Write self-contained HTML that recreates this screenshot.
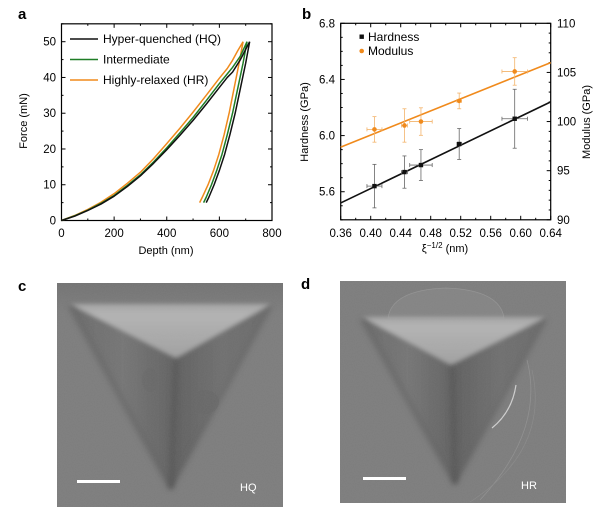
<!DOCTYPE html>
<html><head><meta charset="utf-8"><style>
body{margin:0;background:#fff;width:600px;height:513px;overflow:hidden;font-family:"Liberation Sans",Arial,sans-serif}
svg text{font-family:"Liberation Sans",Arial,sans-serif}
</style></head><body>
<svg id="fig" width="600" height="513" viewBox="0 0 600 513" xmlns="http://www.w3.org/2000/svg">
<defs>
<filter id="noise" x="0" y="0" width="100%" height="100%">
<feTurbulence type="fractalNoise" baseFrequency="0.9" numOctaves="2" seed="3" result="t"/>
<feColorMatrix in="t" type="matrix" values="0 0 0 0 0.45  0 0 0 0 0.45  0 0 0 0 0.45  0 0 0 0.12 0"/>
</filter>
<linearGradient id="bright" x1="0" y1="0" x2="0" y2="1">
<stop offset="0" stop-color="#a4a4a4"/><stop offset="0.2" stop-color="#b4b4b4"/><stop offset="1" stop-color="#a0a0a0"/>
</linearGradient>
<linearGradient id="leftFace" x1="0" y1="0" x2="1" y2="0">
<stop offset="0" stop-color="#6a6a6a"/><stop offset="0.5" stop-color="#747474"/><stop offset="1" stop-color="#606060"/>
</linearGradient>
<linearGradient id="rightFace" x1="0" y1="0" x2="1" y2="0">
<stop offset="0" stop-color="#5e5e5e"/><stop offset="0.5" stop-color="#6e6e6e"/><stop offset="1" stop-color="#6a6a6a"/>
</linearGradient>
<linearGradient id="topShade" x1="0" y1="0" x2="0" y2="1">
<stop offset="0" stop-color="#727272"/><stop offset="1" stop-color="#7c7c7c"/>
</linearGradient>
<filter id="blur"><feGaussianBlur stdDeviation="2"/></filter>
<filter id="blur2"><feGaussianBlur stdDeviation="3"/></filter>
</defs>
<g id="panelA"></g>
<g id="panelB"></g>

<text x="18" y="291" font-size="15" font-weight="bold">c</text>
<g>
<rect x="57" y="283" width="226" height="224" fill="#7c7c7c"/>
<rect x="57" y="283" width="226" height="30" fill="url(#topShade)"/>
<g filter="url(#blur)">
<polygon points="70,305 171,489 177,357" fill="url(#leftFace)"/>
<polygon points="271,305 171,489 177,357" fill="url(#rightFace)"/>
<polygon points="70,304 271,304 176,358" fill="url(#bright)"/>
</g>
<g filter="url(#blur2)">
<line x1="70" y1="306" x2="171" y2="489" stroke="#5a5a5a" stroke-width="5" opacity="0.6"/>
<line x1="271" y1="306" x2="171" y2="489" stroke="#5a5a5a" stroke-width="4" opacity="0.5"/>
<line x1="176" y1="360" x2="171" y2="489" stroke="#525252" stroke-width="5" opacity="0.8"/>
</g>
<ellipse cx="205" cy="402" rx="14" ry="12" fill="#656565" opacity="0.6"/>
<ellipse cx="150" cy="380" rx="8" ry="12" fill="#656565" opacity="0.5"/>
<rect x="57" y="283" width="226" height="224" filter="url(#noise)"/>
<rect x="77" y="480" width="43" height="3" fill="#fff"/>
<text x="240" y="491" font-size="11" fill="#fff">HQ</text>
</g>

<text x="301" y="289" font-size="15" font-weight="bold">d</text>
<g>
<rect x="340" y="281" width="226" height="222" fill="#7c7c7c"/>
<path d="M388,318 Q392,290 446,288 Q500,290 504,318 Z" fill="#838383" stroke="#929292" stroke-width="0.8"/>
<g filter="url(#blur)">
<polygon points="362,318 455,484 452,364" fill="url(#leftFace)"/>
<polygon points="546,318 455,484 452,364" fill="url(#rightFace)"/>
<polygon points="362,317 546,317 451,365" fill="url(#bright)"/>
</g>
<g filter="url(#blur2)">
<line x1="362" y1="319" x2="455" y2="484" stroke="#5a5a5a" stroke-width="5" opacity="0.6"/>
<line x1="546" y1="319" x2="455" y2="484" stroke="#5a5a5a" stroke-width="4" opacity="0.5"/>
<line x1="452" y1="366" x2="455" y2="484" stroke="#525252" stroke-width="5" opacity="0.8"/>
</g>
<path d="M516,385 Q512,412 492,428" fill="none" stroke="#d0d0d0" stroke-width="1.2"/>
<path d="M527,360 Q545,430 480,500" fill="none" stroke="#8f8f8f" stroke-width="0.8"/>
<path d="M532,370 Q550,450 470,502" fill="none" stroke="#898989" stroke-width="0.7"/>
<rect x="340" y="281" width="226" height="222" filter="url(#noise)"/>
<rect x="363" y="477" width="43" height="3" fill="#fff"/>
<text x="521" y="489" font-size="11" fill="#fff">HR</text>
</g>
</svg>
<script>
// ---- Panel A data ----
const hqLoadX=[0,50,100,150,200,250,300,350,400,450,500,550,600,630,650,680,715];
const hqLoadY=[0,1.2,2.8,4.6,6.8,9.5,12.5,16,19.8,23.8,28,32.5,37.2,40,41.5,45,50];
const imLoadX=[0,50,100,150,200,250,300,350,400,450,500,550,600,630,650,680,705];
const imLoadY=[0,1.3,2.9,4.8,7.0,9.8,12.8,16.4,20.3,24.5,28.8,33.5,38.3,41,42.8,46,50];
const hrLoadX=[0,50,100,150,200,250,300,350,400,450,500,550,600,630,650,670,690];
const hrLoadY=[0,1.4,3.1,5.1,7.5,10.4,13.5,17.3,21.5,25.8,30.3,35,39.8,42.5,44.8,47.5,50];
const hqUnX=[715,700,680,660,640,620,600,580,560,550];
const imUnX=[705,690,670,650,630,610,590,570,550,540];
const hrUnX=[690,675,656,637,618,598,578,557,535,525];
const unY=[50,44,37,30,24,18.5,14,10,6.5,5];
const aXTicks=[0,200,400,600,800];
const aYTicks=[0,10,20,30,40,50];
// ---- Panel B data ----
const xi=[0.405,0.445,0.467,0.518,0.592];
const xiErr=[0.010,0.004,0.015,0.003,0.017];
const hardness=[5.64,5.74,5.79,5.94,6.12];
const hardErr=[0.155,0.115,0.11,0.11,0.21];
const modulus=[99.2,99.6,100.0,102.1,105.1];
const modErr=[1.3,1.7,1.4,0.8,1.4];
const hardFitX=[0.36,0.64]; const hardFitY=[5.52,6.24];
const modFitX=[0.36,0.64]; const modFitY=[97.4,106.0];
const bXTicks=[0.36,0.40,0.44,0.48,0.52,0.56,0.60,0.64];
const bYTicks=[5.6,6.0,6.4,6.8];
const bY2Ticks=[90,95,100,105,110];

const NS="http://www.w3.org/2000/svg";
function mk(parent,tag,attrs){const e=document.createElementNS(NS,tag);for(const k in attrs)e.setAttribute(k,attrs[k]);parent.appendChild(e);return e;}
function txt(parent,x,y,s,size,anchor,extra){const t=mk(parent,'text',Object.assign({x:x,y:y,'font-size':size,'text-anchor':anchor||'start'},extra||{}));t.textContent=s;return t;}

// Panel A
const A=document.getElementById('panelA');
const ax=v=>61.5+(v-0)*(272-61.5)/800;
const ay=v=>220.5-v*(220.5-41.7)/50;
let lbl=txt(A,18,19,'a',15,'start',{'font-weight':'bold'});


let fr=mk(A,'rect',{x:61.5,y:ay(55),width:ax(800)-61.5,height:220.5-ay(55),fill:'none',stroke:'#000','stroke-width':1.2});


for(let v=0;v<=800;v+=100){const maj=v%200===0;const x=ax(v);mk(A,'line',{x1:x,x2:x,y1:220.5,y2:220.5-(maj?4:2),stroke:'#000'});mk(A,'line',{x1:x,x2:x,y1:ay(55),y2:ay(55)+(maj?4:2),stroke:'#000'});}
for(let v=0;v<=55;v+=5){const maj=v%10===0;const y=ay(v);mk(A,'line',{x1:61.5,x2:61.5+(maj?4:2),y1:y,y2:y,stroke:'#000'});mk(A,'line',{x1:272,x2:272-(maj?4:2),y1:y,y2:y,stroke:'#000'});}
aXTicks.forEach(v=>{const t=txt(A,ax(v),237,String(v),11.5,'middle');});
aYTicks.forEach(v=>{const t=txt(A,56,ay(v)+4,String(v),11.5,'end');});
let xt=txt(A,166,254,'Depth (nm)',11,'middle');


let yt=txt(A,0,0,'Force (mN)',11,'middle',{transform:'translate(27,121) rotate(-90)'});


function poly(g,xs,ys,color,fx,fy,name){const p=mk(g,'polyline',{points:xs.map((x,i)=>fx(x)+','+fy(ys[i])).join(' '),fill:'none',stroke:color,'stroke-width':1.5,'stroke-linejoin':'round'});return p;}
const series=[['#f08a1c',hrLoadX,hrLoadY,hrUnX,'hr'],['#1f7d26',imLoadX,imLoadY,imUnX,'intermediate'],['#111',hqLoadX,hqLoadY,hqUnX,'hq']];
series.forEach(s=>{poly(A,s[1],s[2],s[0],ax,ay,'loading-curve-'+s[4]);poly(A,s[3],unY,s[0],ax,ay,'unloading-curve-'+s[4]);});
const legA=[['Hyper-quenched (HQ)','#111'],['Intermediate','#1f7d26'],['Highly-relaxed (HR)','#f08a1c']];
legA.forEach((l,i)=>{const y=39+i*20.5;const g=mk(A,'g',{});mk(g,'line',{x1:70,x2:98,y1:y,y2:y,stroke:l[1],'stroke-width':1.6});txt(g,103,y+4,l[0],12,'start');});

// Panel B
const B=document.getElementById('panelB');
const bx=v=>340.7+(v-0.36)*(550.7-340.7)/0.28;
const by=v=>23.3+(6.8-v)*(219.8-23.3)/1.4;
const by2=v=>23.3+(110-v)*(219.8-23.3)/20;
lbl=txt(B,302,19,'b',15,'start',{'font-weight':'bold'});


fr=mk(B,'rect',{x:340.7,y:23.3,width:210,height:196.5,fill:'none',stroke:'#000','stroke-width':1.2});


for(let i=0;i<=14;i++){const v=0.36+i*0.02;const maj=i%2===0;const x=bx(v);mk(B,'line',{x1:x,x2:x,y1:219.8,y2:219.8-(maj?4:2),stroke:'#000'});mk(B,'line',{x1:x,x2:x,y1:23.3,y2:23.3+(maj?4:2),stroke:'#000'});}
for(let i=0;i<=14;i++){const v=5.4+i*0.1;const maj=i%4===2;const y=by(v);mk(B,'line',{x1:340.7,x2:340.7+(maj?4:2),y1:y,y2:y,stroke:'#000'});}
for(let v=90;v<=110;v+=1){const maj=v%5===0;const y=by2(v);mk(B,'line',{x1:550.7,x2:550.7-(maj?4:2),y1:y,y2:y,stroke:'#000'});}
bXTicks.forEach(v=>{const t=txt(B,bx(v),237,v.toFixed(2),11.5,'middle');});
bYTicks.forEach(v=>{const t=txt(B,335,by(v)+4,v.toFixed(1),11.5,'end');});
bY2Ticks.forEach(v=>{const t=txt(B,557,by2(v)+4,String(v),11.5,'start');});
xt=txt(B,445,252,'ξ',11,'middle');
xt.innerHTML='ξ<tspan font-size="8" dy="-4">−1/2</tspan><tspan dy="4"> (nm)</tspan>';


yt=txt(B,0,0,'Hardness (GPa)',11,'middle',{transform:'translate(308,122) rotate(-90)'});


yt=txt(B,0,0,'Modulus (GPa)',11,'middle',{transform:'translate(590,122) rotate(-90)'});


let fl=mk(B,'line',{x1:bx(modFitX[0]),y1:by2(modFitY[0]),x2:bx(modFitX[1]),y2:by2(modFitY[1]),stroke:'#f08a1c','stroke-width':1.6});


fl=mk(B,'line',{x1:bx(hardFitX[0]),y1:by(hardFitY[0]),x2:bx(hardFitX[1]),y2:by(hardFitY[1]),stroke:'#111','stroke-width':1.6});


function errbar(g,x,y,xl,xr,yt_,yb,col){mk(g,'line',{x1:x,x2:x,y1:yt_,y2:yb,stroke:col,'stroke-width':0.8});mk(g,'line',{x1:x-2,x2:x+2,y1:yt_,y2:yt_,stroke:col,'stroke-width':0.8});mk(g,'line',{x1:x-2,x2:x+2,y1:yb,y2:yb,stroke:col,'stroke-width':0.8});mk(g,'line',{x1:xl,x2:xr,y1:y,y2:y,stroke:col,'stroke-width':0.8});mk(g,'line',{x1:xl,x2:xl,y1:y-2,y2:y+2,stroke:col,'stroke-width':0.8});mk(g,'line',{x1:xr,x2:xr,y1:y-2,y2:y+2,stroke:col,'stroke-width':0.8});}
xi.forEach((v,i)=>{
 const g=mk(B,'g',{});
 
 
 errbar(g,bx(v),by2(modulus[i]),bx(v-xiErr[i]),bx(v+xiErr[i]),by2(modulus[i]+modErr[i]),by2(modulus[i]-modErr[i]),'#f3b36a');
 mk(g,'circle',{cx:bx(v),cy:by2(modulus[i]),r:2.3,fill:'#f08a1c'});
 const h=mk(B,'g',{});
 
 
 errbar(h,bx(v),by(hardness[i]),bx(v-xiErr[i]),bx(v+xiErr[i]),by(hardness[i]+hardErr[i]),by(hardness[i]-hardErr[i]),'#666');
 mk(h,'rect',{x:bx(v)-2.2,y:by(hardness[i])-2.2,width:4.4,height:4.4,fill:'#111'});
});
let lg=mk(B,'g',{});


mk(lg,'rect',{x:359.5,y:34.5,width:4.4,height:4.4,fill:'#111'});txt(lg,368,41,'Hardness',12,'start');
lg=mk(B,'g',{});


mk(lg,'circle',{cx:361.7,cy:51,r:2.3,fill:'#f08a1c'});txt(lg,368,55,'Modulus',12,'start');
</script>
</body></html>
